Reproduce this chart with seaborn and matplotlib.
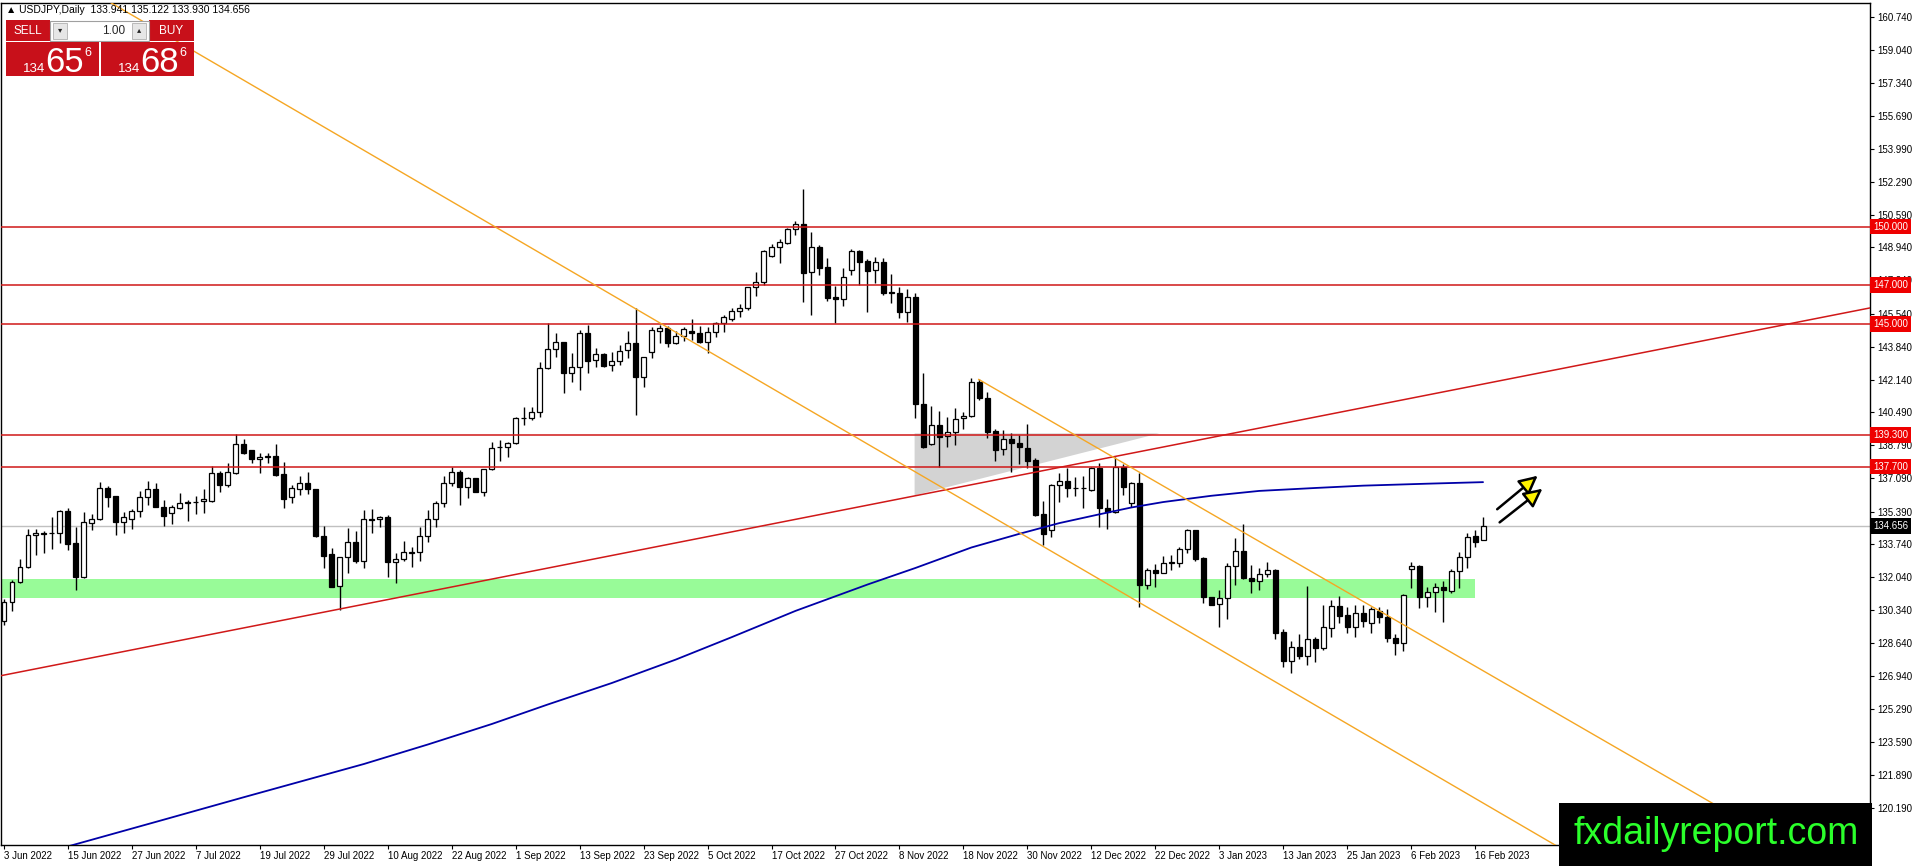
import numpy as np
import pandas as pd
import matplotlib
matplotlib.use("Agg")
import matplotlib.pyplot as plt
import matplotlib.transforms as mtransforms
from matplotlib.patches import Rectangle, Polygon, FancyArrowPatch
import seaborn as sns

W, H = 1916, 866

# ---- daily candles, 3 Jun 2022 .. 17 Feb 2023 ----
opens = [
    129.80, 130.77, 131.80, 132.53, 134.17, 134.30, 134.28, 134.30, 135.42, 133.76,
    132.05, 134.82, 134.99, 136.58, 136.19, 134.87, 134.99, 135.42, 136.12, 136.53,
    135.64, 135.30, 135.59, 135.90, 135.86, 135.92, 135.95, 137.38, 136.75, 137.35,
    138.88, 138.55, 138.07, 138.20, 138.24, 137.31, 136.12, 136.57, 136.87, 136.53,
    134.15, 133.20, 131.57, 133.08, 133.81, 132.87, 135.00, 134.99, 135.10, 132.82,
    132.96, 133.28, 133.30, 134.15, 134.99, 135.82, 136.84, 137.43, 136.67, 137.09,
    136.41, 137.56, 138.68, 138.72, 138.89, 140.20, 140.17, 140.51, 142.73, 143.71,
    144.06, 142.50, 142.78, 144.53, 143.16, 143.47, 142.90, 143.13, 143.68, 144.01,
    142.30, 143.59, 144.66, 144.78, 144.05, 144.39, 144.66, 144.52, 144.10, 144.61,
    145.07, 145.24, 145.68, 145.81, 146.88, 147.17, 148.50, 148.97, 149.17, 149.86,
    150.11, 147.69, 148.93, 147.91, 146.37, 146.27, 147.77, 148.75, 148.23, 147.77,
    148.20, 146.63, 146.58, 145.64, 146.40, 140.89, 138.84, 139.81, 139.26, 139.49,
    140.17, 140.30, 142.05, 141.19, 139.52, 138.58, 139.13, 138.89, 138.63, 138.03,
    135.26, 134.44, 136.75, 136.97, 136.61, 136.60, 136.49, 137.60, 135.56, 135.39,
    137.69, 135.85, 136.84, 131.63, 132.40, 132.26, 132.78, 132.77, 133.45, 134.45,
    132.99, 130.99, 130.65, 130.94, 132.60, 133.37, 132.00, 131.83, 132.17, 132.40,
    129.24, 127.75, 128.47, 127.99, 128.84, 128.38, 129.41, 130.57, 130.09, 129.49,
    130.17, 129.66, 130.31, 130.00, 128.89, 128.64, 132.43, 132.60, 130.99, 131.28,
    131.51, 131.34, 132.36, 133.05, 134.14, 133.941,
]
highs = [
    130.90, 131.90, 132.94, 134.51, 134.50, 134.39, 135.09, 135.45, 135.55, 134.60,
    135.35, 135.26, 136.92, 136.70, 136.20, 135.37, 135.50, 136.46, 136.95, 136.84,
    135.98, 135.72, 136.36, 135.98, 136.19, 136.53, 137.72, 137.48, 137.86, 139.37,
    139.09, 138.57, 138.37, 138.37, 138.85, 137.91, 136.75, 137.21, 137.42, 136.55,
    134.65, 133.51, 133.08, 134.53, 134.41, 135.47, 135.50, 135.16, 135.21, 133.25,
    133.90, 133.59, 134.62, 135.47, 135.95, 137.21, 137.66, 137.52, 137.18, 137.12,
    137.58, 138.97, 139.06, 138.97, 140.25, 140.77, 140.77, 143.07, 145.04, 144.56,
    144.10, 143.50, 144.70, 144.95, 143.76, 143.54, 143.59, 143.93, 144.66, 145.81,
    143.32, 144.87, 144.95, 144.90, 144.66, 144.87, 145.24, 144.90, 144.87, 145.12,
    145.47, 145.81, 146.03, 146.92, 147.69, 148.80, 149.10, 149.34, 149.91, 150.30,
    151.91, 149.74, 149.05, 148.37, 146.95, 147.86, 148.83, 148.80, 148.35, 148.42,
    148.40, 147.57, 146.92, 146.78, 146.60, 142.48, 140.80, 140.56, 140.25, 140.68,
    140.51, 142.22, 142.17, 141.54, 139.60, 139.57, 139.40, 139.31, 139.88, 138.12,
    135.95, 136.83, 137.38, 137.60, 137.18, 137.21, 137.69, 137.86, 136.02, 138.17,
    137.83, 136.92, 137.38, 132.48, 132.70, 133.11, 133.17, 133.56, 134.51, 134.47,
    133.04, 131.02, 131.37, 132.74, 134.02, 134.75, 132.65, 132.48, 132.82, 132.43,
    129.35, 128.77, 129.11, 131.58, 128.98, 130.60, 130.86, 131.06, 130.52, 130.60,
    130.60, 130.52, 130.52, 130.38, 129.11, 131.17, 132.82, 132.65, 131.54, 131.75,
    131.85, 132.43, 133.34, 134.31, 134.45, 135.122,
]
lows = [
    129.60, 130.30, 131.74, 132.48, 133.16, 133.28, 133.47, 133.80, 133.42, 131.37,
    132.00, 134.44, 134.95, 135.60, 134.19, 134.31, 134.48, 135.09, 135.72, 135.60,
    134.65, 134.75, 135.50, 134.90, 135.25, 135.30, 135.90, 136.41, 136.67, 137.31,
    138.35, 137.86, 137.35, 137.86, 137.20, 135.55, 135.84, 136.24, 136.29, 134.10,
    132.48, 131.50, 130.35, 132.22, 132.74, 132.48, 134.31, 134.62, 132.02, 131.71,
    132.87, 132.53, 132.87, 133.85, 134.62, 135.64, 136.70, 135.73, 136.07, 136.38,
    136.21, 137.52, 138.00, 138.20, 138.87, 139.83, 140.08, 140.25, 142.70, 143.33,
    141.45, 142.05, 141.62, 142.51, 142.82, 142.78, 142.61, 142.90, 143.24, 140.34,
    141.76, 143.24, 144.01, 143.84, 144.00, 144.15, 144.18, 144.05, 143.50, 144.35,
    144.61, 145.17, 145.38, 145.72, 146.44, 147.00, 148.42, 148.15, 149.10, 149.57,
    146.15, 145.47, 147.52, 146.20, 145.07, 145.93, 147.52, 147.00, 145.64, 147.09,
    146.49, 146.06, 145.30, 145.13, 140.17, 138.65, 138.80, 137.69, 138.68, 138.80,
    139.60, 140.25, 141.11, 139.14, 138.00, 138.29, 137.43, 137.83, 137.60, 135.15,
    133.68, 134.07, 135.90, 136.15, 136.19, 135.56, 136.45, 134.62, 134.48, 135.30,
    136.24, 135.64, 130.52, 131.40, 131.54, 132.22, 132.40, 132.57, 133.28, 132.87,
    130.72, 130.58, 129.46, 129.87, 131.63, 131.95, 131.23, 131.37, 132.02, 128.84,
    127.41, 127.13, 127.82, 127.53, 127.70, 128.30, 128.98, 129.66, 129.18, 128.98,
    129.46, 129.15, 129.70, 128.72, 128.04, 128.26, 131.46, 130.43, 130.52, 130.26,
    129.75, 131.23, 131.46, 132.48, 133.56, 133.930,
]
closes = [
    130.77, 131.80, 132.53, 134.19, 134.27, 134.26, 134.30, 135.42, 133.73, 132.05,
    134.84, 134.99, 136.58, 136.15, 134.87, 135.13, 135.42, 136.12, 136.53, 135.64,
    135.18, 135.60, 135.81, 135.85, 135.90, 136.03, 137.38, 136.75, 137.42, 138.88,
    138.37, 138.07, 138.17, 138.25, 137.26, 136.02, 136.58, 136.87, 136.56, 134.15,
    133.13, 131.54, 133.08, 133.81, 132.87, 134.99, 134.98, 135.09, 132.82, 132.96,
    133.33, 133.31, 134.15, 134.99, 135.85, 136.84, 137.43, 136.67, 137.09, 136.41,
    137.56, 138.63, 138.72, 138.89, 140.17, 140.17, 140.51, 142.73, 143.71, 144.06,
    142.51, 142.78, 144.53, 143.13, 143.47, 142.87, 143.13, 143.64, 144.01, 142.30,
    143.29, 144.70, 144.78, 144.05, 144.39, 144.73, 144.52, 144.10, 144.61, 145.07,
    145.35, 145.68, 145.81, 146.88, 147.17, 148.75, 148.97, 149.19, 149.86, 150.11,
    147.64, 148.93, 147.89, 146.35, 146.27, 147.43, 148.75, 148.20, 147.74, 148.16,
    146.58, 146.62, 145.64, 146.40, 140.89, 138.72, 139.81, 139.23, 139.49, 140.15,
    140.30, 142.05, 141.19, 139.49, 138.55, 139.13, 138.89, 138.68, 138.00, 135.21,
    134.24, 136.75, 136.97, 136.58, 136.60, 136.61, 137.60, 135.56, 135.39, 137.69,
    136.67, 136.84, 131.63, 132.40, 132.26, 132.74, 132.80, 133.45, 134.45, 132.94,
    131.03, 130.60, 130.94, 132.60, 133.37, 131.97, 131.83, 132.17, 132.40, 129.18,
    127.75, 128.47, 127.99, 128.84, 128.38, 129.46, 130.57, 130.05, 129.49, 130.17,
    129.80, 130.38, 130.00, 128.89, 128.64, 131.11, 132.60, 130.99, 131.28, 131.51,
    131.37, 132.36, 133.05, 134.10, 133.85, 134.656,
]

date_ticks = list(range(0, 185, 8))
date_labels = ["3 Jun 2022", "15 Jun 2022", "27 Jun 2022", "7 Jul 2022", "19 Jul 2022",
               "29 Jul 2022", "10 Aug 2022", "22 Aug 2022", "1 Sep 2022", "13 Sep 2022",
               "23 Sep 2022", "5 Oct 2022", "17 Oct 2022", "27 Oct 2022", "8 Nov 2022",
               "18 Nov 2022", "30 Nov 2022", "12 Dec 2022", "22 Dec 2022", "3 Jan 2023",
               "13 Jan 2023", "25 Jan 2023", "6 Feb 2023", "16 Feb 2023"]

price_ticks = [160.740, 159.040, 157.340, 155.690, 153.990, 152.290, 150.590, 148.940,
               147.240, 145.540, 143.840, 142.140, 140.490, 138.790, 137.090, 135.390,
               133.740, 132.040, 130.340, 128.640, 126.940, 125.290, 123.590, 121.890,
               120.190]

levels = [150.0, 147.0, 145.0, 139.3, 137.7]

# moving average (blue) read at a few bars
ma_bars = [6, 20, 30, 45, 53, 61, 68, 76, 84, 91, 99, 108, 114, 121, 127, 132, 137,
           141, 145, 151, 157, 164, 170, 178, 185]
ma_vals = [118.0, 119.6, 120.75, 122.45, 123.45, 124.5, 125.5, 126.6, 127.8, 128.95,
           130.3, 131.65, 132.5, 133.55, 134.25, 134.8, 135.25, 135.6, 135.88, 136.2,
           136.45, 136.6, 136.72, 136.82, 136.9]

# drawn objects (bar index, price anchors)
red_trend_bars = [0, 142]
red_trend_prices = [127.01, 138.46]
chan_low_bars = [72, 142]
chan_low_prices = [147.46, 130.73]
chan_up_bars = [121.9, 185.9]
chan_up_prices = [142.17, 127.02]
tri_bars = [113.9, 113.9, 144.5]
tri_prices = [139.40, 136.22, 139.40]
zone_low, zone_high, zone_end = 130.96, 131.93, 184.0
arrow_tails = [(186.5, 135.42), (186.8, 134.75)]
arrow_heads = [(192.1, 137.32), (192.7, 136.65)]

sell_price, buy_price = 134.656, 134.686

# ---- style ----
sns.set_style("white")
plt.rcParams["font.family"] = ["Liberation Sans", "DejaVu Sans"]

fig = plt.figure(figsize=(W / 100, H / 100), dpi=100)
AX_L, AX_R, AX_T, AX_B = 1, 1870, 3, 845
ax = fig.add_axes([AX_L / W, 1 - AX_B / H, (AX_R - AX_L) / W, (AX_B - AX_T) / H])

XMIN, XMAX = -0.375, 233.4
YMIN, YMAX = 118.30, 161.46

x = np.arange(len(opens))
o = np.array(opens); h = np.array(highs); l = np.array(lows); c = np.array(closes)
up = c >= o

# background objects
ax.add_patch(Rectangle((XMIN, zone_low), zone_end - XMIN, zone_high - zone_low,
                       fc="#98fb98", ec="none", zorder=1))
ax.add_patch(Polygon(list(zip(tri_bars, tri_prices)), closed=True, fc="#d3d3d3",
                     ec="none", zorder=1))
ax.axhline(c[-1], color="#c0c0c0", lw=1, zorder=2)

# candles
ax.vlines(x, l, h, color="black", lw=1.0, zorder=3)
ax.bar(x, np.maximum(np.abs(c - o), 0.005), bottom=np.minimum(o, c), width=0.62,
       color=np.where(up, "white", "black"), edgecolor="black", linewidth=0.9, zorder=4)

# moving average
df_ma = pd.DataFrame({"bar": ma_bars, "ma": ma_vals})
sns.lineplot(data=df_ma, x="bar", y="ma", color="#0000a8", lw=1.3, ax=ax,
             estimator=None, legend=False, zorder=5)

# horizontal levels
for lv in levels:
    ax.axhline(lv, color="#d01818", lw=1.1, zorder=5)


def ray(bars, prices, from_start=False, **kw):
    s = (prices[1] - prices[0]) / (bars[1] - bars[0])
    x0 = bars[0] if from_start else XMIN
    ax.plot([x0, XMAX], [prices[0] + s * (x0 - bars[0]), prices[0] + s * (XMAX - bars[0])], **kw)


ray(red_trend_bars, red_trend_prices, color="#d01818", lw=1.1, zorder=5)
ray(chan_low_bars, chan_low_prices, color="#f5a623", lw=1.0, zorder=5)
ray(chan_up_bars, chan_up_prices, from_start=True, color="#f5a623", lw=1.0, zorder=5)

for (tx, ty), (hx, hy) in zip(arrow_tails, arrow_heads):
    ax.add_patch(FancyArrowPatch((tx, ty), (hx, hy),
                                 arrowstyle="-|>,head_length=0.8,head_width=0.4",
                                 mutation_scale=14, lw=1.8, ec="black", fc="#fff200",
                                 zorder=6, clip_on=False))

ax.set_xlim(XMIN, XMAX)
ax.set_ylim(YMIN, YMAX)
ax.set_xlabel("")
ax.set_ylabel("")

ax.yaxis.tick_right()
ax.set_yticks(price_ticks)
ax.set_yticklabels([f"{v:.3f}" for v in price_ticks])
ax.tick_params(axis="y", right=True, left=False, length=3, width=0.8, pad=2,
               labelsize=7, colors="black")
ax.set_xticks(date_ticks)
ax.set_xticklabels(date_labels, ha="left")
ax.tick_params(axis="x", bottom=True, length=3, width=0.8, pad=1.5, labelsize=7,
               colors="black")
for sp in ax.spines.values():
    sp.set_color("black")
    sp.set_linewidth(1)

# price boxes on the right axis
trans = mtransforms.blended_transform_factory(ax.transAxes, ax.transData)
for lv in levels:
    ax.text(1.0018, lv, f"{lv:.3f}", transform=trans, ha="left", va="center",
            fontsize=7, color="white", zorder=10, clip_on=False,
            bbox=dict(boxstyle="square,pad=0.3", fc="#ee0000", ec="none"))
ax.text(1.0018, c[-1], f"{c[-1]:.3f}", transform=trans, ha="left", va="center",
        fontsize=7, color="white", zorder=10, clip_on=False,
        bbox=dict(boxstyle="square,pad=0.3", fc="#000000", ec="none"))


# ---- overlay widgets in pixel coordinates ----
def frect(x0, y0, x1, y1, **kw):
    fig.add_artist(Rectangle((x0 / W, 1 - y1 / H), (x1 - x0) / W, (y1 - y0) / H,
                             transform=fig.transFigure, **kw))


def ftext(px, py, s, **kw):
    fig.text(px / W, 1 - py / H, s, **kw)


header = (f"\u25b2 USDJPY,Daily  {opens[-1]:.3f} {highs[-1]:.3f} "
          f"{lows[-1]:.3f} {closes[-1]:.3f}")
ftext(6, 10, header, fontsize=7.5, va="center", color="black", zorder=30)

red = "#c8101a"
frect(6, 20, 50, 41, fc=red, ec="none", zorder=30)
frect(149, 20, 194, 41, fc=red, ec="none", zorder=30)
frect(50, 21, 149, 41, fc="white", ec="#a0a0a0", lw=0.8, zorder=30)
frect(53, 23, 67, 39, fc="#e6e6e6", ec="#b0b0b0", lw=0.6, zorder=31)
frect(132, 23, 146, 39, fc="#e6e6e6", ec="#b0b0b0", lw=0.6, zorder=31)
ftext(60, 31, "\u25be", fontsize=6, ha="center", va="center", zorder=32)
ftext(139, 31, "\u25b4", fontsize=6, ha="center", va="center", zorder=32)
ftext(125, 31, "1.00", fontsize=8.5, ha="right", va="center", zorder=32)
ftext(28, 31, "SELL", fontsize=8.5, ha="center", va="center", color="white", zorder=32)
ftext(171, 31, "BUY", fontsize=8.5, ha="center", va="center", color="white", zorder=32)
frect(6, 42, 99, 76, fc=red, ec="none", zorder=30)
frect(101, 42, 194, 76, fc=red, ec="none", zorder=30)

for bx, price in [(0, sell_price), (95, buy_price)]:
    s = f"{price:.3f}"
    big, small, pip = s[:3], s[4:6], s[6]
    ftext(23 + bx, 72, big, fontsize=9.5, color="white", va="baseline", zorder=32)
    ftext(45 + bx, 72, small, fontsize=25, color="white", va="baseline", zorder=32)
    ftext(84 + bx, 47, pip, fontsize=9, color="white", va="top", zorder=32)

# logo
frect(1559, 803, 1872, 866, fc="black", ec="none", zorder=40)
ftext(1716, 834, "fxdailyreport.com", fontsize=27, color="#2bff2b", ha="center",
      va="center", zorder=41)

fig.savefig("out.png", dpi=100)
